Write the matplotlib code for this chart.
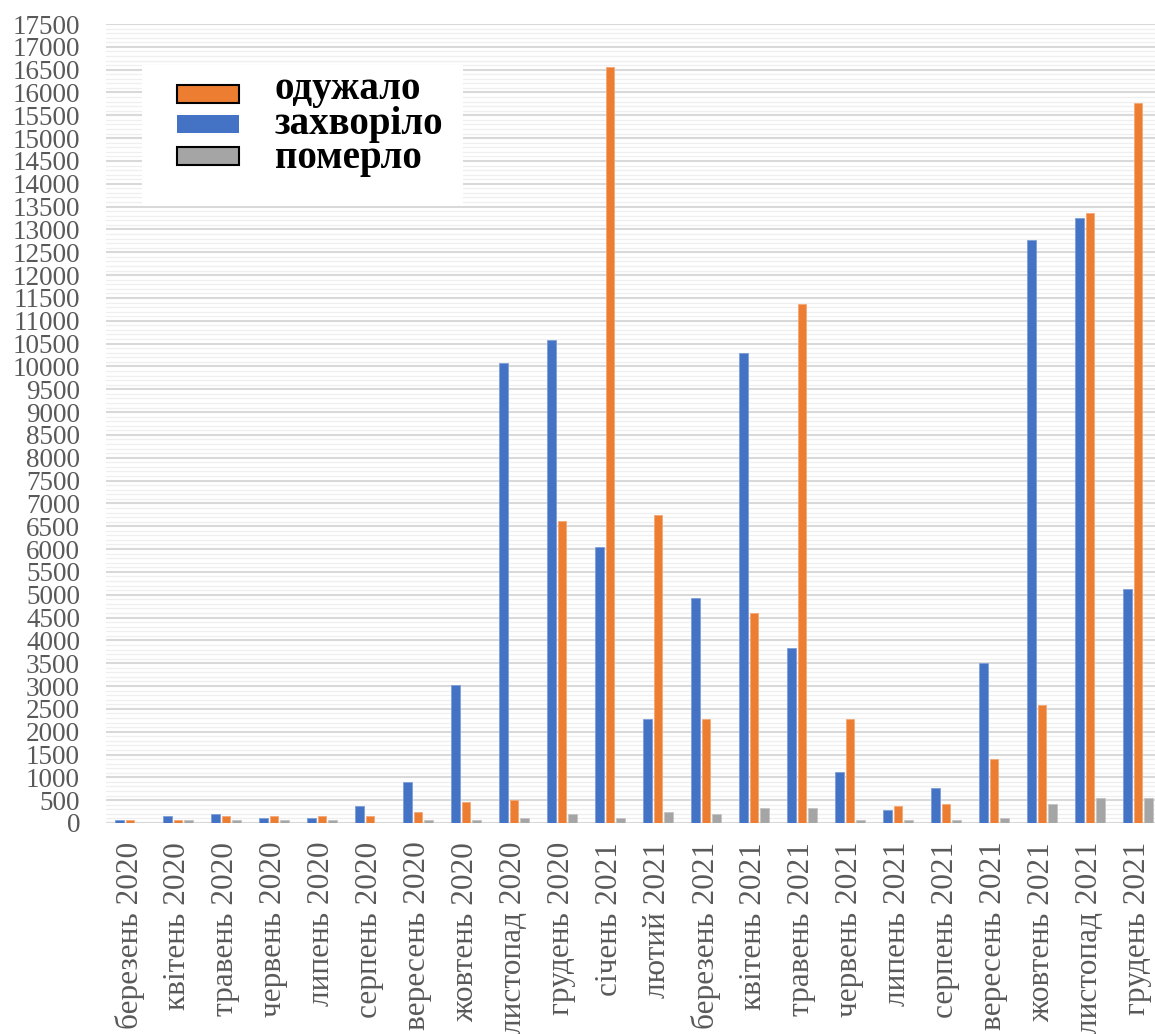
import matplotlib.pyplot as plt
from matplotlib.patches import Rectangle
from matplotlib.ticker import MultipleLocator
import numpy as np

# monthly totals, March 2020 - December 2021
months = ["березень 2020", "квітень 2020", "травень 2020", "червень 2020",
          "липень 2020", "серпень 2020", "вересень 2020", "жовтень 2020",
          "листопад 2020", "грудень 2020", "січень 2021", "лютий 2021",
          "березень 2021", "квітень 2021", "травень 2021", "червень 2021",
          "липень 2021", "серпень 2021", "вересень 2021", "жовтень 2021",
          "листопад 2021", "грудень 2021"]
sick = [60, 150, 190, 100, 100, 365, 890, 3030, 10070, 10580, 6055, 2280,
        4935, 10290, 3830, 1110, 280, 760, 3500, 12760, 13240, 5130]
recovered = [60, 60, 150, 150, 150, 150, 235, 455, 505, 6625, 16560, 6755,
             2280, 4590, 11370, 2280, 365, 410, 1400, 2590, 13370, 15770]
died = [0, 60, 60, 60, 60, 0, 60, 60, 100, 190, 100, 235,
        190, 320, 320, 60, 60, 60, 100, 410, 540, 540]

BLUE = "#4472C4"
ORANGE = "#ED7D31"
GRAY = "#A5A5A5"
TICK_COLOR = "#595959"

W, H = 1155, 1034
fig = plt.figure(figsize=(W / 100, H / 100), dpi=100)
fig.patch.set_facecolor("white")

# axes box in pixels
left, right, top, bottom = 105.8, 1155, 24, 823
ax = fig.add_axes([left / W, (H - bottom) / H, (right - left) / W, (bottom - top) / H])

x = np.arange(len(months))
bw = 0.178
step = 0.218
ax.bar(x - step, sick, bw, color=BLUE, edgecolor="#7d9fd8", linewidth=0.6, zorder=3)
ax.bar(x, recovered, bw, color=ORANGE, edgecolor="#f3a878", linewidth=0.6, zorder=3)
ax.bar(x + step, died, bw, color=GRAY, edgecolor="#c4c4c4", linewidth=0.6, zorder=3)

ax.set_xlim(-0.5, -0.5 + (right - left) / 48.0)
ax.set_ylim(0, 17500)

ax.yaxis.set_major_locator(MultipleLocator(500))
ax.yaxis.set_minor_locator(MultipleLocator(100))
ax.grid(axis="y", which="major", color="#d9d9d9", linewidth=1.5, zorder=0)
ax.grid(axis="y", which="minor", color="#efefef", linewidth=0.9, zorder=0)
ax.set_axisbelow(True)
for s in ax.spines.values():
    s.set_visible(False)
ax.axhline(0, color="#d9d9d9", linewidth=1.5, zorder=1)

ax.set_xticks(x)
ax.set_xticklabels(months, rotation=90, ha="center", va="top")
ax.tick_params(axis="x", length=0, pad=13.5, labelsize=22.5, labelcolor=TICK_COLOR)
ax.tick_params(axis="y", which="both", length=0, pad=18.5, labelsize=19.5,
               labelcolor=TICK_COLOR)
for lab in ax.get_xticklabels() + ax.get_yticklabels():
    lab.set_fontfamily("Liberation Serif")


def fx(px):
    return px / W


def fy(py):
    return 1 - py / H


# legend drawn by hand: white box, swatches, bold labels
fig.add_artist(Rectangle((fx(142), fy(205)), fx(463) - fx(142), fy(65) - fy(205),
                         transform=fig.transFigure, facecolor="white",
                         edgecolor="none", zorder=5))
legend_rows = [("одужало", ORANGE, "black", 85, 103, 99),
               ("захворіло", BLUE, "none", 115, 133, 134),
               ("померло", GRAY, "black", 147, 165, 168)]
for label, fc, ec, y0, y1, base in legend_rows:
    fig.add_artist(Rectangle((fx(177), fy(y1)), fx(239) - fx(177), fy(y0) - fy(y1),
                             transform=fig.transFigure, facecolor=fc,
                             edgecolor=ec, linewidth=1.5, zorder=6))
    fig.text(fx(275), fy(base), label, fontsize=28, fontweight="bold",
             family="Liberation Serif", va="baseline", ha="left", zorder=7)

fig.savefig("out.png", dpi=100)
